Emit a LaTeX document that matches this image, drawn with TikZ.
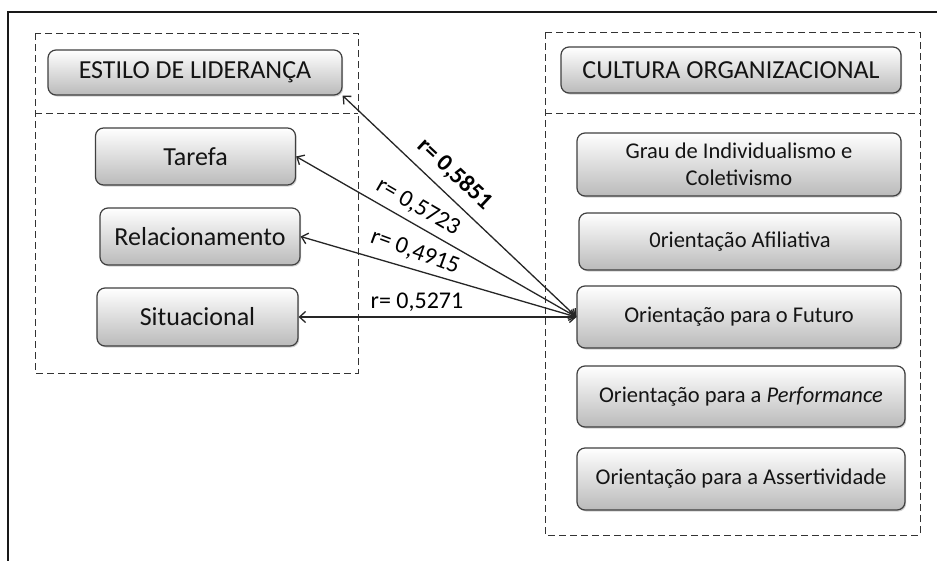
\documentclass[tikz,border=0pt]{standalone}
\usepackage{fontspec}
\setmainfont{Carlito}
\usetikzlibrary{arrows.meta,shadows}
\begin{document}
\begin{tikzpicture}[x=1pt,y=-1pt,
  gbox/.style={draw=black!75, line width=1.2pt, rounded corners=8pt,
    top color=white, bottom color=black!27,
    drop shadow={shadow xshift=1.2pt, shadow yshift=-1.5pt, opacity=0.35},
    align=center, text=black!92, inner sep=0pt},
  bigtxt/.style={font=\fontsize{26}{30}\selectfont},
  smalltxt/.style={font=\fontsize{22.5}{27}\selectfont},
  dbox/.style={draw=black!80, line width=1pt, dash pattern=on 7pt off 4pt},
  conn/.style={line width=1.3pt, draw=black!85, {Straight Barb[length=6pt,width=11pt]}-{Straight Barb[length=6pt,width=11pt]}},
  rlab/.style={font=\fontsize{24}{28}\selectfont, text=black, inner sep=0pt}
]
\useasboundingbox (0,0) rectangle (937,560);
\fill[white] (0,0) rectangle (937,560);
% outer frame
\draw[line width=2pt, black!90] (8,562) -- (8,12) -- (939,12);
% dashed group frames
\draw[dbox] (35,33) rectangle (358,373);
\draw[dbox] (35,113) -- (358,113);
\draw[dbox] (545,32) rectangle (920,535);
\draw[dbox] (545,113) -- (920,113);
% left boxes
\node[gbox,bigtxt,minimum width=294pt,minimum height=45pt] (estilo) at (195,72.5) {ESTILO DE LIDERANÇA};
\node[gbox,bigtxt,minimum width=200pt,minimum height=57pt] (tarefa) at (195.5,156.5) {Tarefa};
\node[gbox,bigtxt,minimum width=200pt,minimum height=57pt] (relac) at (200,236.5) {Relacionamento};
\node[gbox,bigtxt,minimum width=201pt,minimum height=58pt] (situac) at (197.5,317) {Situacional};
% right boxes
\node[gbox,bigtxt,minimum width=340pt,minimum height=46pt] (cultura) at (731,70) {CULTURA ORGANIZACIONAL};
\node[gbox,smalltxt,minimum width=324pt,minimum height=63pt] (grau) at (739,164.5) {Grau de Individualismo e\\Coletivismo};
\node[gbox,smalltxt,minimum width=322pt,minimum height=57pt] (afil) at (740,241.5) {0rientação Afiliativa};
\node[gbox,smalltxt,minimum width=324pt,minimum height=62pt] (futuro) at (739,317) {Orientação para o Futuro};
\node[gbox,smalltxt,minimum width=328pt,minimum height=61pt] (perf) at (741,396.5) {Orientação para a \textit{Performance}};
\node[gbox,smalltxt,minimum width=328pt,minimum height=62pt] (assert) at (741,479) {Orientação para a Assertividade};
% connectors
\draw[conn] (estilo.south east) -- (futuro.west);
\draw[conn] (tarefa.east) -- (futuro.west);
\draw[conn] (relac.east) -- (futuro.west);
\draw[conn] (situac.east) -- (futuro.west);
% labels
\node[rlab,rotate=-43] (l1) at (455,174) {\bfseries r= 0,5851};
\node[rlab,rotate=-30] (l2) at (418,207) {r= 0,5723};
\node[rlab,rotate=-20] (l3) at (415,252) {r= 0,4915};
\node[rlab] (l4) at (417,302) {r= 0,5271};
\end{tikzpicture}
\end{document}
